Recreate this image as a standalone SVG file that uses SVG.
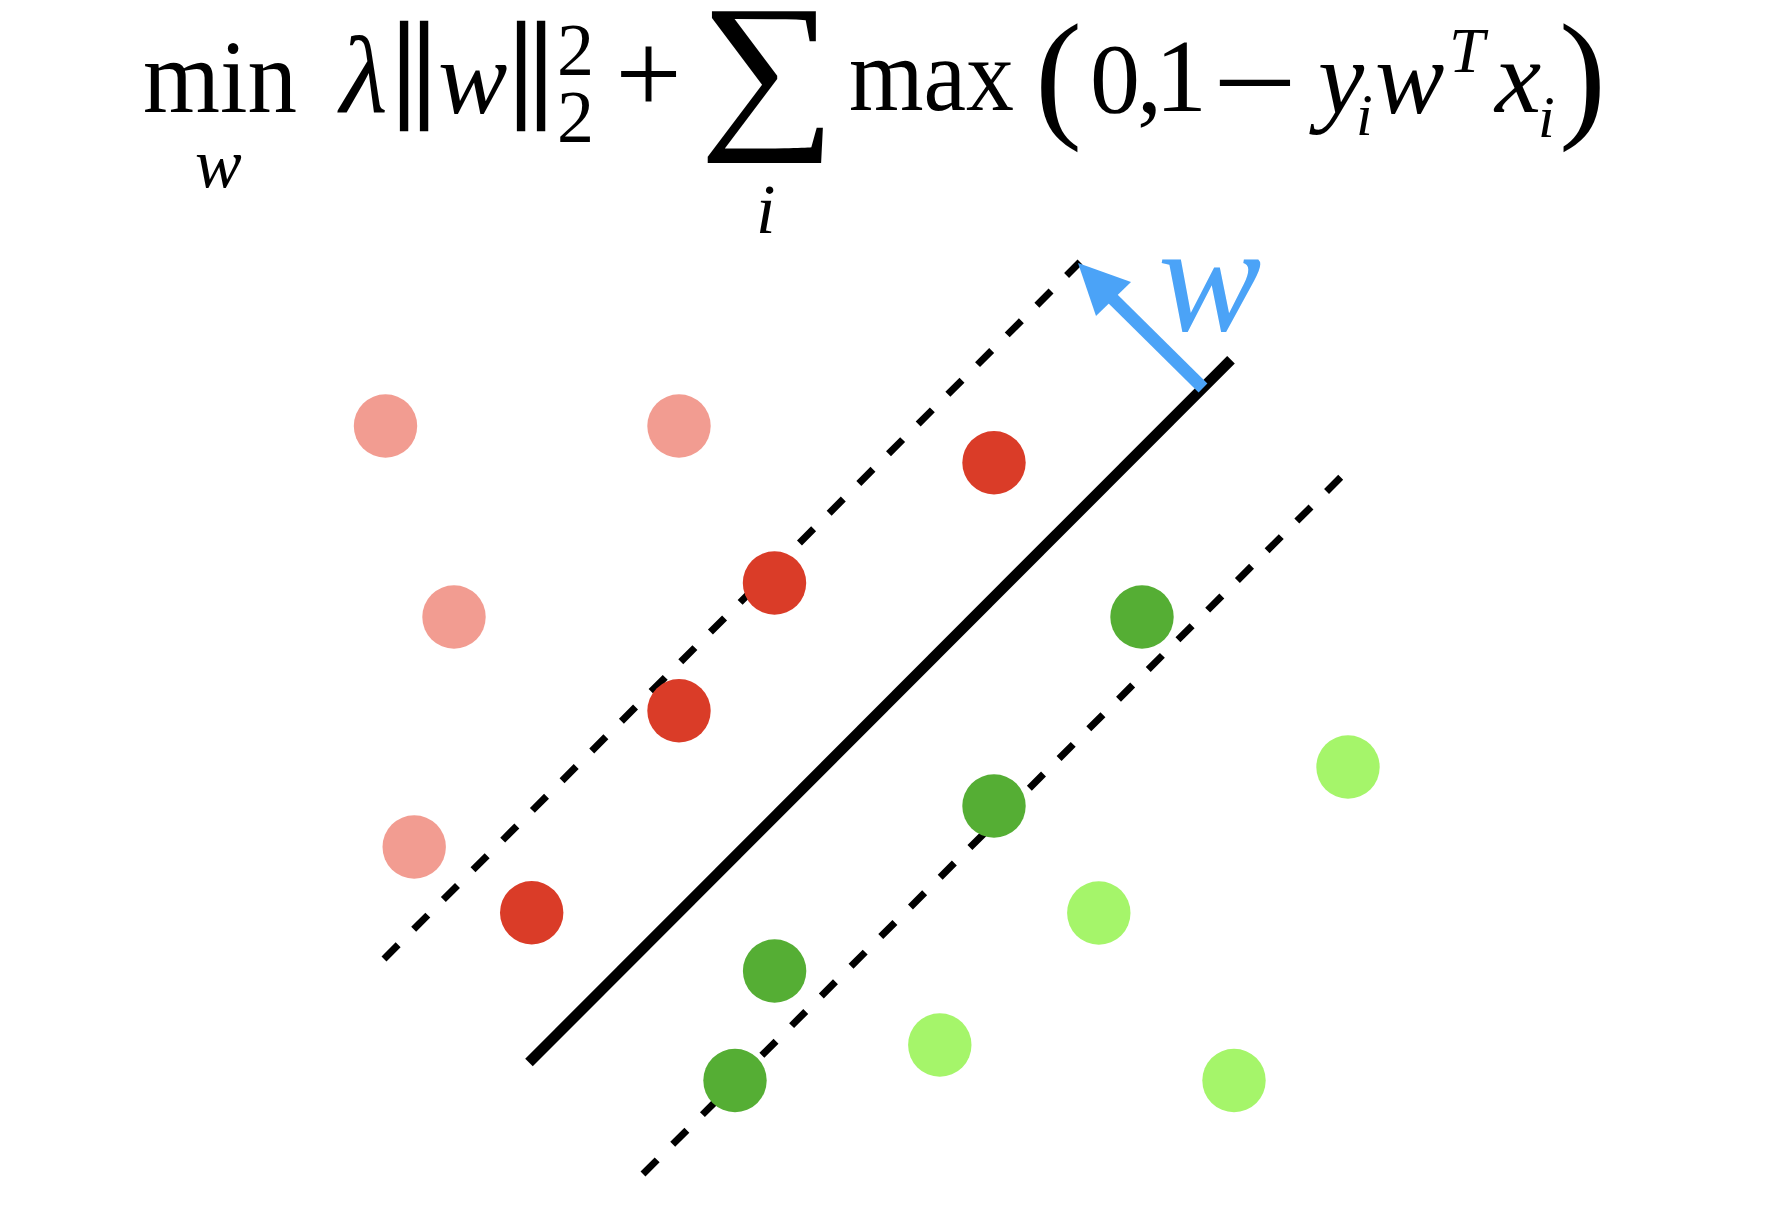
<svg xmlns="http://www.w3.org/2000/svg" width="1778" height="1230" viewBox="0 0 1778 1230">
<style>
  .t { font-family: "Liberation Serif", "Times New Roman", serif; fill: #000; }
  .it { font-style: italic; }
  .bar { stroke: #000; stroke-width: 2.5; }
  .lr { fill: #F29C91; }
  .dr { fill: #DA3C28; }
  .dg { fill: #55AE34; }
  .lg { fill: #A5F56A; }
  .dash { stroke: #000; stroke-width: 7; stroke-dasharray: 20 22; fill: none; }
</style>
<rect width="1778" height="1230" fill="#fff"/>

<g id="formula">
  <text class="t" x="143" y="112" font-size="104" textLength="154" lengthAdjust="spacingAndGlyphs">min</text>
  <text class="t it" x="195" y="187" font-size="70">w</text>
  <text class="t it" x="340" y="112" font-size="110">λ</text>
  <text class="t bar" x="404" y="105" font-size="118" text-anchor="middle">|</text>
  <text class="t bar" x="424" y="105" font-size="118" text-anchor="middle">|</text>
  <text class="t it" x="438" y="113" font-size="104">w</text>
  <text class="t bar" x="521" y="105" font-size="118" text-anchor="middle">|</text>
  <text class="t bar" x="541" y="105" font-size="118" text-anchor="middle">|</text>
  <text class="t" x="557" y="75" font-size="74">2</text>
  <text class="t" x="557" y="142" font-size="74">2</text>
  <text class="t" x="648.5" y="114" font-size="118" text-anchor="middle">+</text>
  <text class="t" transform="translate(767.5,126) scale(1.1,1)" x="0" y="0" font-size="175" text-anchor="middle">∑</text>
  <text class="t it" x="756" y="233" font-size="70">i</text>
  <text class="t" x="849" y="110" font-size="104" textLength="165" lengthAdjust="spacingAndGlyphs">max</text>
  <text class="t" x="1035" y="122" font-size="141">(</text>
  <text class="t" x="1090" y="112" font-size="100">0</text>
  <text class="t" x="1137" y="112" font-size="100">,</text>
  <text class="t" x="1155" y="111" font-size="104">1</text>
  <text class="t" transform="translate(1255,124) scale(1.45,1.2)" x="0" y="0" font-size="104" text-anchor="middle">−</text>
  <text class="t it" x="1318" y="113" font-size="104">y</text>
  <text class="t it" x="1356" y="135" font-size="60">i</text>
  <text class="t it" x="1375" y="113" font-size="104">w</text>
  <text class="t it" x="1449" y="72" font-size="64">T</text>
  <text class="t it" x="1495" y="112" font-size="104">x</text>
  <text class="t it" x="1538" y="137" font-size="60">i</text>
  <text class="t" x="1559" y="122" font-size="141">)</text>
</g>

<g id="margins">
  <line id="upper-margin" class="dash" x1="384" y1="959" x2="1080" y2="262"/>
  <line id="lower-margin" class="dash" x1="643" y1="1174" x2="1342" y2="476"/>
</g>
<line id="hyperplane" x1="529" y1="1062.5" x2="1231" y2="359.7" stroke="#000" stroke-width="10.7"/>

<g id="negative-points">
  <circle class="lr" cx="385.5" cy="426" r="31.7"/>
  <circle class="lr" cx="679" cy="426" r="31.7"/>
  <circle class="lr" cx="454" cy="617" r="31.7"/>
  <circle class="lr" cx="414.2" cy="847" r="31.7"/>
  <circle class="dr" cx="994" cy="462.7" r="31.7"/>
  <circle class="dr" cx="774.5" cy="583" r="31.7"/>
  <circle class="dr" cx="679" cy="710.8" r="31.7"/>
  <circle class="dr" cx="531.7" cy="912.7" r="31.7"/>
</g>
<g id="positive-points">
  <circle class="dg" cx="1142" cy="617" r="31.7"/>
  <circle class="dg" cx="994" cy="806" r="31.7"/>
  <circle class="dg" cx="774.6" cy="971" r="31.7"/>
  <circle class="dg" cx="735" cy="1080.5" r="31.7"/>
  <circle class="lg" cx="1348" cy="767" r="31.7"/>
  <circle class="lg" cx="1098.8" cy="913" r="31.7"/>
  <circle class="lg" cx="939.8" cy="1045" r="31.7"/>
  <circle class="lg" cx="1234" cy="1080.5" r="31.7"/>
</g>

<g id="normal-vector">
  <line x1="1203" y1="388" x2="1110" y2="296" stroke="#4BA3F7" stroke-width="12.5"/>
  <polygon points="1078,263 1131,282 1096,316" fill="#4BA3F7"/>
  <text class="it" x="1158" y="330" font-size="155" font-family="Liberation Serif, Times New Roman, serif" fill="#4BA3F7">w</text>
</g>
</svg>
